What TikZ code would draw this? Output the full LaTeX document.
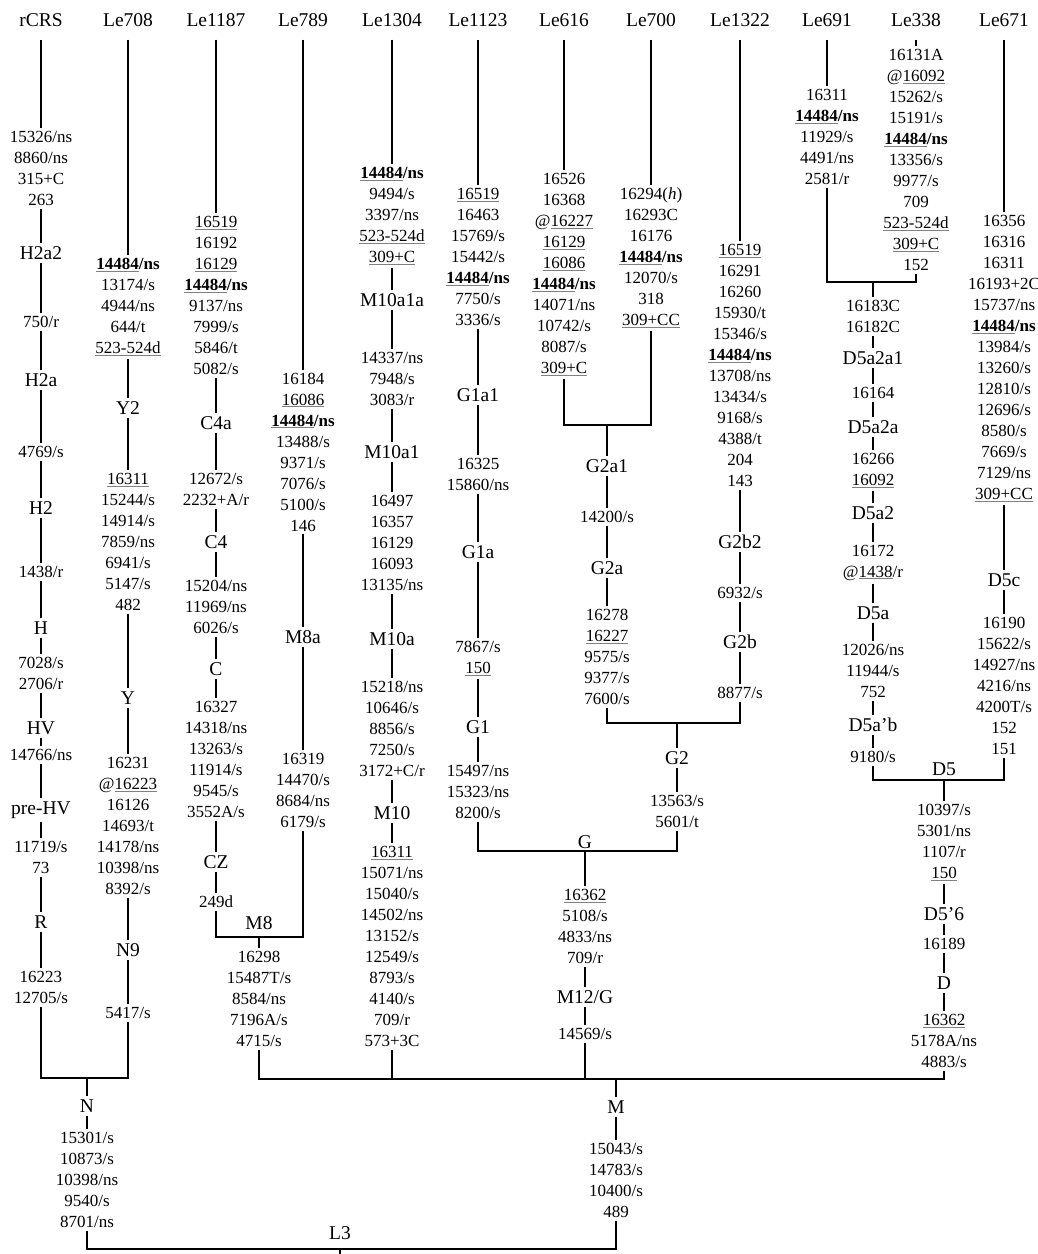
\documentclass[tikz,border=0pt]{standalone}
\usepackage{fontspec}
\setmainfont{Liberation Serif}
\usepackage{tikz}

\newcommand{\mutsize}{\fontsize{17}{21}\selectfont}
\newcommand{\hgsize}{\fontsize{19.5}{23}\selectfont}
\newcommand{\usite}[1]{\textcolor{gray}{\underline{\textcolor{black}{#1}}}}
\newcommand{\hsite}{\textbf{\usite{14484}/ns}}

\begin{document}
\begin{tikzpicture}[x=1pt,y=-1pt,line width=1.5pt,
    mut/.style={align=center,font=\mutsize,inner sep=2.5pt},
    hg/.style={font=\hgsize,inner sep=2.5pt},
    hdr/.style={font=\hgsize,inner sep=3pt,outer sep=10pt}]
        \useasboundingbox (0,0) rectangle (1038,1254);
        \node[hdr] (rcrs) at (41,20) {rCRS};
        \node[hdr] (le708) at (128,20) {Le708};
        \node[hdr] (le1187) at (216,20) {Le1187};
        \node[hdr] (le789) at (303,20) {Le789};
        \node[hdr] (le1304) at (392,20) {Le1304};
        \node[hdr] (le1123) at (478,20) {Le1123};
        \node[hdr] (le616) at (564,20) {Le616};
        \node[hdr] (le700) at (651,20) {Le700};
        \node[hdr] (le1322) at (740,20) {Le1322};
        \node[hdr] (le691) at (827,20) {Le691};
        \node[hdr] (le338) at (916,20) {Le338};
        \node[hdr] (le671) at (1004,20) {Le671};
        % rCRS
        \node[mut] (rc1) at (41,168.5) {15326/ns\\8860/ns\\315+C\\263};
        \node[hg] (H2a2) at (41,253) {H2a2};
        \node[mut] (rc2) at (41,322) {750/r};
        \node[hg] (H2a) at (41,380) {H2a};
        \node[mut] (rc3) at (41,452) {4769/s};
        \node[hg] (H2) at (41,508) {H2};
        \node[mut] (rc4) at (41,572) {1438/r};
        \node[hg] (H) at (41,628) {H};
        \node[mut] (rc5) at (41,673.5) {7028/s\\2706/r};
        \node[hg] (HV) at (41,728) {HV};
        \node[mut] (rc6) at (41,755) {14766/ns};
        \node[hg] (preHV) at (41,810) {pre-HV};
        \node[mut] (rc7) at (41,857.5) {11719/s\\73};
        \node[hg] (R) at (41,922) {R};
        \node[mut] (rc8) at (41,987.5) {16223\\12705/s};
        \draw (rcrs) -- (rc1) -- (H2a2) -- (rc2) -- (H2a) -- (rc3) -- (H2) -- (rc4) -- (H) -- (rc5) -- (HV) -- (rc6) -- (preHV) -- (rc7) -- (R) -- (rc8);
        % Le708
        \node[mut] (ya1) at (128,307) {\hsite\\13174/s\\4944/ns\\644/t\\\usite{523-524d}};
        \node[hg] (Y2) at (128,408) {Y2};
        \node[mut] (ya2) at (128,542) {\usite{16311}\\15244/s\\14914/s\\7859/ns\\6941/s\\5147/s\\482};
        \node[hg] (Y) at (128,698) {Y};
        \node[mut] (ya3) at (128,826) {16231\\@\usite{16223}\\16126\\14693/t\\14178/ns\\10398/ns\\8392/s};
        \node[hg] (N9) at (128,950) {N9};
        \node[mut] (ya4) at (128,1013) {5417/s};
        \draw (le708) -- (ya1) -- (Y2) -- (ya2) -- (Y) -- (ya3) -- (N9) -- (ya4);
        % N
        \coordinate (jN) at (87,1078);
        \node[hg] (N) at (87,1106) {N};
        \node[mut] (nn1) at (87,1180) {15301/s\\10873/s\\10398/ns\\9540/s\\8701/ns};
        \draw (rc8) |- (jN) -| (ya4);
        \draw (jN) -- (N) -- (nn1);
        % Le1187
        \node[mut] (ca1) at (216,295.5) {\usite{16519}\\16192\\\usite{16129}\\\hsite\\9137/ns\\7999/s\\5846/t\\5082/s};
        \node[hg] (C4a) at (216,423) {C4a};
        \node[mut] (ca2) at (216,489.5) {12672/s\\2232+A/r};
        \node[hg] (C4) at (216,542) {C4};
        \node[mut] (ca3) at (216,607) {15204/ns\\11969/ns\\6026/s};
        \node[hg] (C) at (216,669) {C};
        \node[mut] (ca4) at (216,759.5) {16327\\14318/ns\\13263/s\\11914/s\\9545/s\\3552A/s};
        \node[hg] (CZ) at (216,862) {CZ};
        \node[mut] (ca5) at (216,902) {249d};
        \draw (le1187) -- (ca1) -- (C4a) -- (ca2) -- (C4) -- (ca3) -- (C) -- (ca4) -- (CZ) -- (ca5);
        % Le789
        \node[mut] (ma1) at (303,452) {16184\\\usite{16086}\\\hsite\\13488/s\\9371/s\\7076/s\\5100/s\\146};
        \node[hg] (M8a) at (303,637) {M8a};
        \node[mut] (ma2) at (303,790.5) {16319\\14470/s\\8684/ns\\6179/s};
        \draw (le789) -- (ma1) -- (M8a) -- (ma2);
        \coordinate (jM8) at (259,937);
        \node[hg] (M8) at (259,923) {M8};
        \node[mut] (ma3) at (259,999) {16298\\15487T/s\\8584/ns\\7196A/s\\4715/s};
        \draw (ca5) |- (jM8) -| (ma2);
        \draw (jM8) -- (ma3);
        % Le1304
        \node[mut] (mx1) at (392,216) {\hsite\\9494/s\\3397/ns\\\usite{523-524d}\\\usite{309+C}};
        \node[hg] (M10a1a) at (392,300) {M10a1a};
        \node[mut] (mx2) at (392,379) {14337/ns\\7948/s\\3083/r};
        \node[hg] (M10a1) at (392,452) {M10a1};
        \node[mut] (mx3) at (392,543) {16497\\16357\\16129\\16093\\13135/ns};
        \node[hg] (M10a) at (392,639) {M10a};
        \node[mut] (mx4) at (392,729) {15218/ns\\10646/s\\8856/s\\7250/s\\3172+C/r};
        \node[hg] (M10) at (392,813) {M10};
        \node[mut] (mx5) at (392,946.5) {\usite{16311}\\15071/ns\\15040/s\\14502/ns\\13152/s\\12549/s\\8793/s\\4140/s\\709/r\\573+3C};
        \draw (le1304) -- (mx1) -- (M10a1a) -- (mx2) -- (M10a1) -- (mx3) -- (M10a) -- (mx4) -- (M10) -- (mx5);
        % Le1123
        \node[mut] (ga1) at (478,257) {\usite{16519}\\16463\\15769/s\\15442/s\\\hsite\\7750/s\\3336/s};
        \node[hg] (G1a1) at (478,395) {G1a1};
        \node[mut] (ga2) at (478,474.5) {16325\\15860/ns};
        \node[hg] (G1a) at (478,552) {G1a};
        \node[mut] (ga3) at (478,658.5) {7867/s\\\usite{150}};
        \node[hg] (G1) at (478,727) {G1};
        \node[mut] (ga4) at (478,792) {15497/ns\\15323/ns\\8200/s};
        \draw (le1123) -- (ga1) -- (G1a1) -- (ga2) -- (G1a) -- (ga3) -- (G1) -- (ga4);
        % Le616, Le700
        \node[mut] (gb1) at (564,274.5) {16526\\16368\\@\usite{16227}\\\usite{16129}\\\usite{16086}\\\hsite\\14071/ns\\10742/s\\8087/s\\\usite{309+C}};
        \node[mut] (gc1) at (651,258) {16294(\textit{h})\\16293C\\16176\\\hsite\\12070/s\\318\\\usite{309+CC}};
        \draw (le616) -- (gb1);
        \draw (le700) -- (gc1);
        \coordinate (jG2a) at (607,425);
        \node[hg] (G2a1) at (607,466) {G2a1};
        \node[mut] (gc2) at (607,517) {14200/s};
        \node[hg] (G2a) at (607,568) {G2a};
        \node[mut] (gc3) at (607,657) {16278\\\usite{16227}\\9575/s\\9377/s\\7600/s};
        \draw (gb1) |- (jG2a) -| (gc1);
        \draw (jG2a) -- (G2a1) -- (gc2) -- (G2a) -- (gc3);
        % Le1322
        \node[mut] (gd1) at (740,365.5) {\usite{16519}\\16291\\16260\\15930/t\\15346/s\\\hsite\\13708/ns\\13434/s\\9168/s\\4388/t\\204\\143};
        \node[hg] (G2b2) at (740,542) {G2b2};
        \node[mut] (gd2) at (740,593) {6932/s};
        \node[hg] (G2b) at (740,642) {G2b};
        \node[mut] (gd3) at (740,693) {8877/s};
        \draw (le1322) -- (gd1) -- (G2b2) -- (gd2) -- (G2b) -- (gd3);
        \coordinate (jG2) at (677,723);
        \node[hg] (G2) at (677,758) {G2};
        \node[mut] (gc4) at (677,811.5) {13563/s\\5601/t};
        \draw (gc3) |- (jG2) -| (gd3);
        \draw (jG2) -- (G2) -- (gc4);
        % G
        \coordinate (jG) at (585,851);
        \node[hg] (G) at (585,842) {G};
        \node[mut] (gm1) at (585,926.5) {\usite{16362}\\5108/s\\4833/ns\\709/r};
        \node[hg] (M12G) at (585,997) {M12/G};
        \node[mut] (gm2) at (585,1034) {14569/s};
        \draw (ga4) |- (jG) -| (gc4);
        \draw (jG) -- (gm1) -- (M12G) -- (gm2);
        % Le691, Le338
        \node[mut] (da1) at (827,137) {16311\\\hsite\\11929/s\\4491/ns\\2581/r};
        \node[mut] (db1) at (916,160) {16131A\\@\usite{16092}\\15262/s\\15191/s\\\hsite\\13356/s\\9977/s\\709\\\usite{523-524d}\\\usite{309+C}\\152};
        \draw (le691) -- (da1);
        \draw (le338) -- (db1);
        \coordinate (jD5a2) at (873,282);
        \node[mut] (db2) at (873,316.5) {16183C\\16182C};
        \node[hg] (D5a2a1) at (873,358) {D5a2a1};
        \node[mut] (db3) at (873,393) {16164};
        \node[hg] (D5a2a) at (873,427) {D5a2a};
        \node[mut] (db4) at (873,470.5) {16266\\\usite{16092}};
        \node[hg] (D5a2) at (873,513) {D5a2};
        \node[mut] (db5) at (873,562.5) {16172\\@\usite{1438}/r};
        \node[hg] (D5a) at (873,613) {D5a};
        \node[mut] (db6) at (873,671) {12026/ns\\11944/s\\752};
        \node[hg] (D5ab) at (873,725) {D5a'b};
        \node[mut] (db7) at (873,757) {9180/s};
        \draw (da1) |- (jD5a2) -| (db1);
        \draw (jD5a2) -- (db2) -- (D5a2a1) -- (db3) -- (D5a2a) -- (db4) -- (D5a2) -- (db5) -- (D5a) -- (db6) -- (D5ab) -- (db7);
        % Le671
        \node[mut] (dc1) at (1004,358.5) {16356\\16316\\16311\\16193+2C\\15737/ns\\\hsite\\13984/s\\13260/s\\12810/s\\12696/s\\8580/s\\7669/s\\7129/ns\\\usite{309+CC}};
        \node[hg] (D5c) at (1004,580) {D5c};
        \node[mut] (dc2) at (1004,686) {16190\\15622/s\\14927/ns\\4216/ns\\4200T/s\\152\\151};
        \draw (le671) -- (dc1) -- (D5c) -- (dc2);
        % D
        \coordinate (jD5) at (944,780);
        \node[hg] (D5) at (944,769) {D5};
        \node[mut] (dd1) at (944,842.5) {10397/s\\5301/ns\\1107/r\\\usite{150}};
        \node[hg] (D56) at (944,914) {D5'6};
        \node[mut] (dd2) at (944,944) {16189};
        \node[hg] (D) at (944,983) {D};
        \node[mut] (dd3) at (944,1041) {\usite{16362}\\5178A/ns\\4883/s};
        \draw (db7) |- (jD5) -| (dc2);
        \draw (jD5) -- (dd1) -- (D56) -- (dd2) -- (D) -- (dd3);
        % M
        \coordinate (jM) at (616,1079);
        \node[hg] (M) at (616,1107) {M};
        \node[mut] (mm1) at (616,1180.5) {15043/s\\14783/s\\10400/s\\489};
        \draw (ma3) |- (jM) -| (dd3);
        \draw (mx5) -- (mx5 |- jM);
        \draw (gm2) -- (gm2 |- jM);
        \draw (jM) -- (M) -- (mm1);
        % L3
        \coordinate (jL3) at (340,1249);
        \coordinate (root) at (340,1256);
        \node[hg] (L3) at (340,1233) {L3};
        \draw (nn1) |- (jL3) -| (mm1);
        \draw (jL3) -- (root);
      \end{tikzpicture}
\end{document}
